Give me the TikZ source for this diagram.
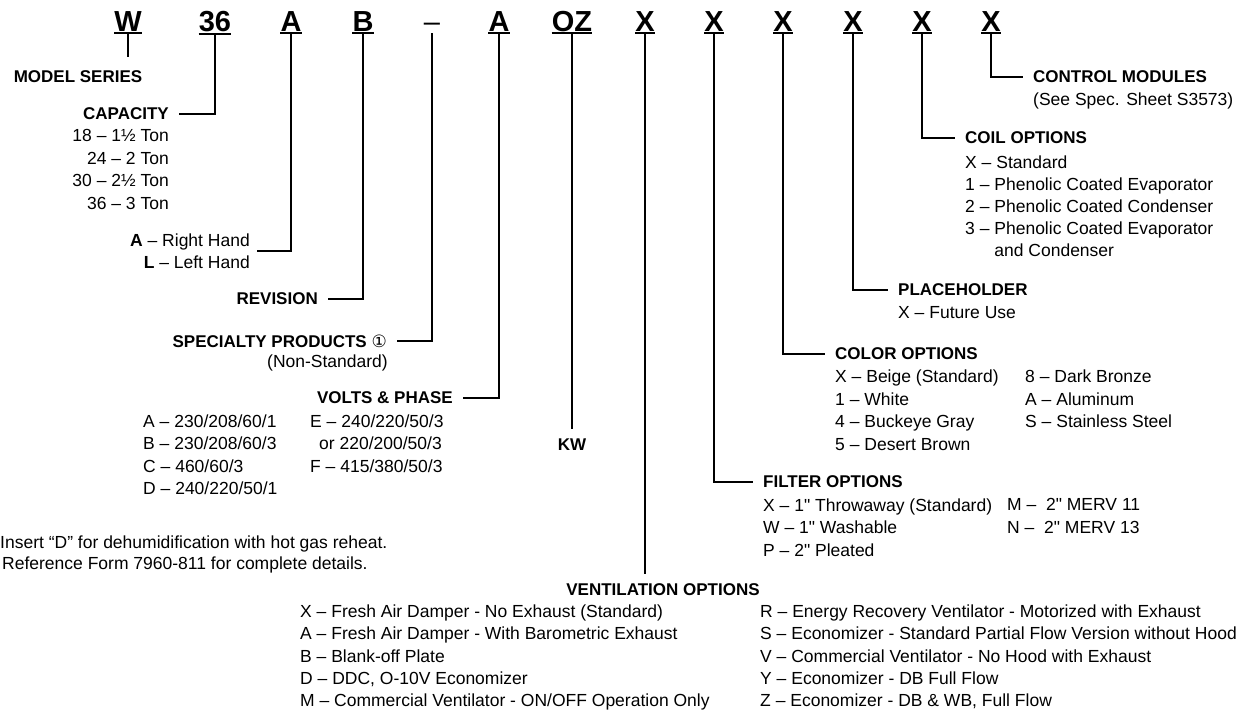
\documentclass[tikz,border=0pt]{standalone}
\usepackage{fontspec}
\setmainfont{Liberation Sans}
\newfontfamily\circfont{DejaVu Sans}
\newfontfamily\inchfont{Liberation Sans}
\newcommand{\inch}{{\inchfont"}}
\usetikzlibrary{positioning}

\begin{document}
\begin{tikzpicture}[x=1pt,y=-1pt,
  code/.style={font=\fontsize{29}{29}\selectfont\bfseries,anchor=base,inner xsep=0pt,inner ysep=2pt},
  uline/.style={line width=2pt},
  lead/.style={line width=2.6pt},
  hdr/.style={font=\fontsize{17}{22}\selectfont\bfseries,inner xsep=10pt,inner ysep=4pt},
  opt/.style={font=\fontsize{17.5}{22.5}\selectfont,inner sep=0pt,align=left,anchor=north west}]
  \useasboundingbox (0,0) rectangle (1249,715);

  % model number
  \foreach \nm/\x/\t in {w/128/W, cap/215/36, hand/291/A, rev/363/B, volt/499/A, kw/572/OZ,
                         vent/645/X, filt/714/X, col/783/X, ph/853/X, coil/922/X, ctl/991/X} {
    \node[code] (c\nm) at (\x,31) {\t};
    \draw[uline] (c\nm.south west) -- (c\nm.south east);
  }
  \node[code,font=\fontsize{29}{29}\selectfont] (cspec) at (432,31) {–};

  % left side
  \node[hdr,inner ysep=14pt] (model) at (78,77) {MODEL SERIES};
  \draw[lead] (cw.south) -- (cw.south |- model.north);

  \node[hdr,anchor=east] (cap) at (179,114) {CAPACITY};
  \node[opt,align=right,anchor=north east] (caplist) at (169,129.5)
    {18 – 1½ Ton\\24 – 2 Ton\\30 – 2½ Ton\\36 – 3 Ton};
  \draw[lead] (ccap.south) |- (cap.east);

  \node[opt,align=right,anchor=east,inner xsep=7pt] (hand) at (257,251)
    {\textbf{A} – Right Hand\\\textbf{L} – Left Hand};
  \draw[lead] (chand.south) |- (hand.east);

  \node[hdr,anchor=east] (rev) at (328,299) {REVISION};
  \draw[lead] (crev.south) |- (rev.east);

  \node[hdr,anchor=east] (spec) at (397,341) {SPECIALTY PRODUCTS {\circfont\mdseries ①}};
  \node[opt,anchor=north east] (nonstd) at (388,354.5) {(Non-Standard)};
  \draw[lead] (cspec.south) |- (spec.east);

  \node[hdr,anchor=east] (volt) at (463,398) {VOLTS \& PHASE};
  \node[opt] (voltA) at (143,414.5)
    {A – 230/208/60/1\\B – 230/208/60/3\\C – 460/60/3\\D – 240/220/50/1};
  \node[opt] (voltE) at (310,414.5)
    {E – 240/220/50/3\\\hspace*{9pt}or 220/200/50/3\\F – 415/380/50/3};
  \draw[lead] (cvolt.south) |- (volt.east);

  \node[hdr,inner ysep=10pt] (kw) at (572,445) {KW};
  \draw[lead] (ckw.south) -- (ckw.south |- kw.north);

  \node[opt,font=\fontsize{17.5}{21}\selectfont] (note) at (0,535.5)
    {Insert “D” for dehumidification with hot gas reheat.\\
     \hspace*{2pt}Reference Form 7960-811 for complete details.};

  % bottom
  \node[hdr,inner ysep=10pt] (vent) at (663,590) {VENTILATION OPTIONS};
  \draw[lead] (cvent.south) -- (cvent.south |- vent.north);
  \node[opt,font=\fontsize{17.5}{22.4}\selectfont] (ventA) at (300,604.5)
    {X – Fresh Air Damper - No Exhaust (Standard)\\
     A – Fresh Air Damper - With Barometric Exhaust\\
     B – Blank-off Plate\\
     D – DDC, O-10V Economizer\\
     M – Commercial Ventilator - ON/OFF Operation Only};
  \node[opt,font=\fontsize{17.5}{22.4}\selectfont] (ventR) at (760,604.5)
    {R – Energy Recovery Ventilator - Motorized with Exhaust\\
     S – Economizer - Standard Partial Flow Version without Hood\\
     V – Commercial Ventilator - No Hood with Exhaust\\
     Y – Economizer - DB Full Flow\\
     Z – Economizer - DB \& WB, Full Flow};

  % right side
  \node[hdr,anchor=west] (filt) at (753,482) {FILTER OPTIONS};
  \node[opt] (filtX) at (763,498.5)
    {X – 1\inch{} Throwaway (Standard)\\W – 1\inch{} Washable\\P – 2\inch{} Pleated};
  \node[opt] (filtM) at (1007,498.5) {M – \ 2\inch{} MERV 11\\N – \ 2\inch{} MERV 13};
  \draw[lead] (cfilt.south) |- (filt.west);

  \node[hdr,anchor=west] (col) at (825,354) {COLOR OPTIONS};
  \node[opt] (colX) at (835,370)
    {X – Beige (Standard)\\1 – White\\4 – Buckeye Gray\\5 – Desert Brown};
  \node[opt] (col8) at (1025,370)
    {8 – Dark Bronze\\A – Aluminum\\S – Stainless Steel};
  \draw[lead] (ccol.south) |- (col.west);

  \node[hdr,anchor=west] (ph) at (888,290) {PLACEHOLDER};
  \node[opt] (phX) at (898,306.5) {X – Future Use};
  \draw[lead] (cph.south) |- (ph.west);

  \node[hdr,anchor=west] (coil) at (955,138) {COIL OPTIONS};
  \node[opt,font=\fontsize{17.5}{22}\selectfont] (coilX) at (965,155.5)
    {X – Standard\\1 – Phenolic Coated Evaporator\\2 – Phenolic Coated Condenser\\
     3 – Phenolic Coated Evaporator\\\phantom{3 – }and Condenser};
  \draw[lead] (ccoil.south) |- (coil.west);

  \node[hdr,anchor=west] (ctl) at (1023,77) {CONTROL MODULES};
  \node[opt] (ctlsee) at (1033,92.5) {(See Spec. Sheet S3573)};
  \draw[lead] (cctl.south) |- (ctl.west);
\end{tikzpicture}
\end{document}
